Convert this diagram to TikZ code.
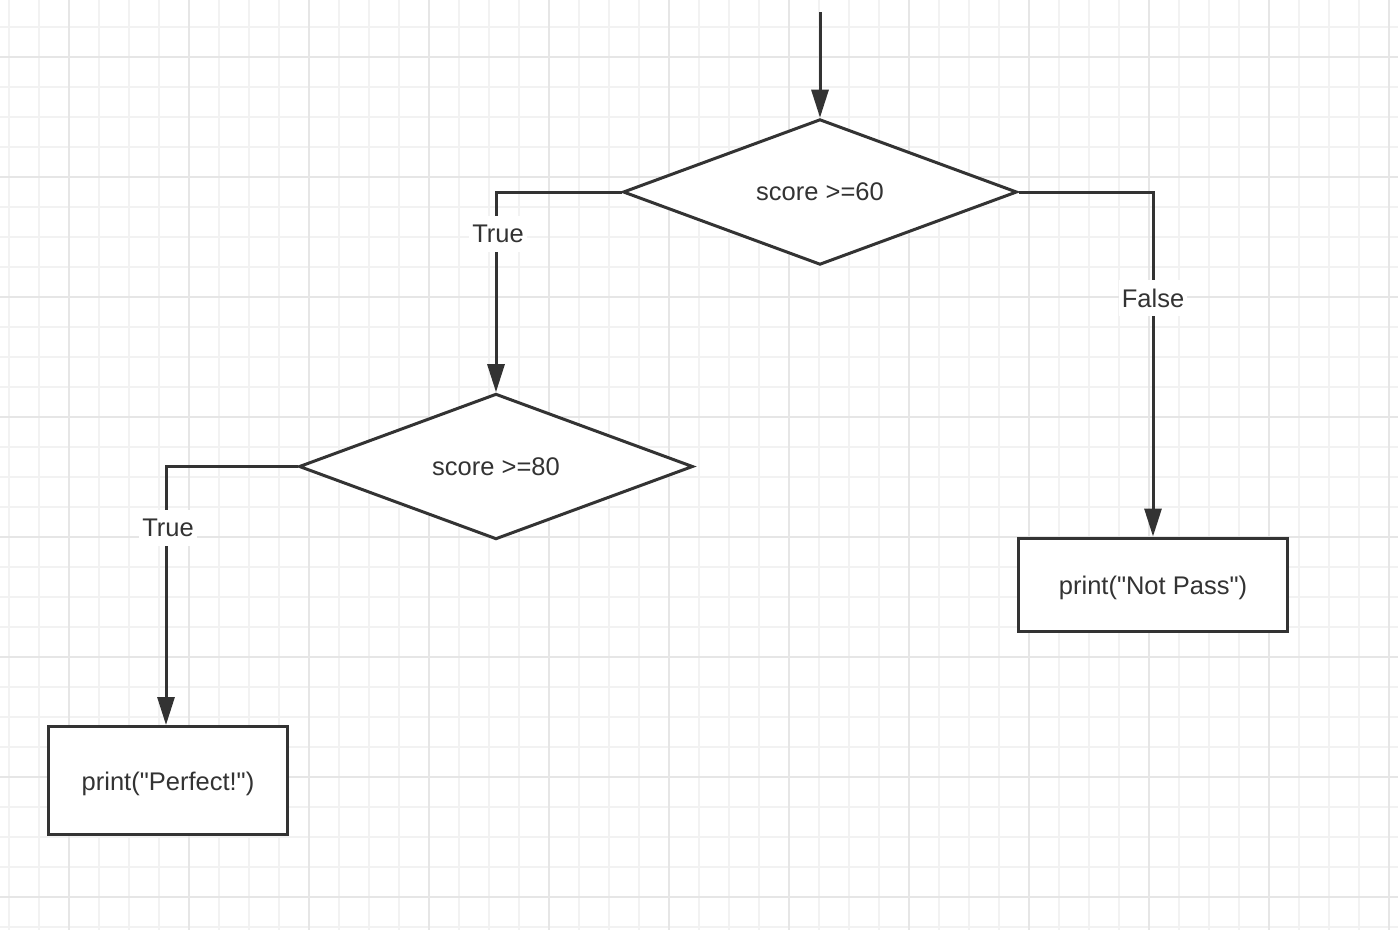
\documentclass[tikz,border=0pt]{standalone}
\usepackage{fontspec}
\setmainfont{Liberation Sans}
\usetikzlibrary{shapes.geometric,arrows.meta}
\definecolor{ink}{HTML}{333333}
\definecolor{gminor}{HTML}{F2F2F2}
\definecolor{gmajor}{HTML}{E6E6E6}
\begin{document}
\begin{tikzpicture}[x=1pt,y=-1pt,
  every node/.style={font=\fontsize{25.5}{30}\selectfont, text=ink},
  decision/.style={diamond, draw=ink, line width=3pt, fill=white, minimum width=394pt, minimum height=140pt, inner sep=0pt},
  proc/.style={rectangle, draw=ink, line width=3pt, fill=white, text height=19pt, text depth=0pt},
  flow/.style={draw=ink, line width=3pt, -{Triangle[length=28pt,width=17pt]}},
  lbl/.style={fill=white, inner xsep=3pt, inner ysep=9pt},
  gridminor/.style={draw=gminor, line width=1.5pt},
  gridmajor/.style={draw=gmajor, line width=1.5pt}
]
\useasboundingbox (0,0) rectangle (1398,930);
\fill[white] (0,0) rectangle (1398,930);
\foreach \x in {9,39,...,1389} \draw[gridminor] (\x,0) -- (\x,930);
\foreach \y in {27,57,...,927} \draw[gridminor] (0,\y) -- (1398,\y);
\foreach \x in {69,189,...,1389} \draw[gridmajor] (\x,0) -- (\x,930);
\foreach \y in {57,177,...,897} \draw[gridmajor] (0,\y) -- (1398,\y);

\node[decision] (d1) at (820,192) {score >=60};
\node[decision] (d2) at (496,466.5) {score >=80};
\node[proc, minimum width=239pt, minimum height=108pt] (b1) at (168,780.5) {print(\textquotedbl Perfect!\textquotedbl)};
\node[proc, minimum width=269pt, minimum height=93pt] (b2) at (1153,584.5) {print(\textquotedbl Not Pass\textquotedbl)};

\coordinate (s) at (820,12);
\draw[flow] (s) -- (d1.north);
\draw[flow] (d1.west) -| (d2.north);
\draw[flow] (d1.east) -| (b2.north);
\draw[flow] (d2.west) -| ([xshift=-2pt]b1.north);

\node[lbl] (t1) at (498,234) {True};
\node[lbl] (f1) at (1153,298) {False};
\node[lbl] (t2) at (168,528) {True};
\end{tikzpicture}
\end{document}
